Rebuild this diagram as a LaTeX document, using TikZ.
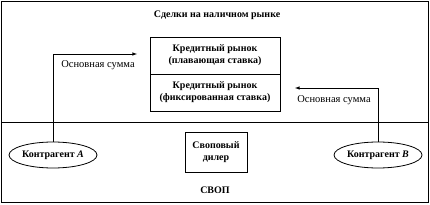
\documentclass[tikz,border=0pt]{standalone}
\usepackage{fontspec}
\setmainfont{Liberation Serif}
\usetikzlibrary{shapes.geometric}
\tikzset{
  box/.style={draw, line width=0.8pt, align=center, font=\bfseries, inner sep=1pt},
  party/.style={draw, ellipse, line width=0.8pt, minimum width=88pt, minimum height=26pt, inner sep=0pt, font=\bfseries},
  flow/.style={-latex, line width=0.6pt},
  sum/.style={font=\fontsize{10.5}{12}\selectfont}
}
\begin{document}
\begin{tikzpicture}[x=1pt, y=-1pt, font=\fontsize{8.5}{10}\selectfont]
    \useasboundingbox (0,0) rectangle (430,205);
    % Frame and divider
    \draw[line width=0.9pt] (1,1) rectangle (428,202);
    \draw[line width=0.6pt] (1,122) -- (428,122);

    % Spot market
    \node[font=\bfseries] (spot) at (217,15) {Сделки на наличном рынке};
    \node[box, minimum width=130pt, minimum height=37pt] (floating) at (215,55.5) {Кредитный рынок\\(плавающая ставка)};
    \node[box, minimum width=130pt, minimum height=37pt] (fixed) at (215,92.5) {Кредитный рынок\\(фиксированная ставка)};

    % Swap
    \node[party] (ctrA) at (53,155) {Контрагент \textit{A}};
    \node[party] (ctrB) at (378,155) {Контрагент \textit{B}};
    \node[box, minimum width=62pt, minimum height=40pt] (dealer) at (216,152) {Своповый\\дилер};
    \node[font=\bfseries] (swap) at (215,190) {СВОП};

    % Principal flows
    \coordinate (inA) at (137,54);
    \coordinate (inB) at (295,88);
    \draw[flow] (ctrA.north) |- (inA);
    \draw[flow] (ctrB.north) |- (inB);
    \node[sum] (sumA) at (98,65) {Основная сумма};
    \node[sum] (sumB) at (334,100) {Основная сумма};
\end{tikzpicture}
\end{document}
